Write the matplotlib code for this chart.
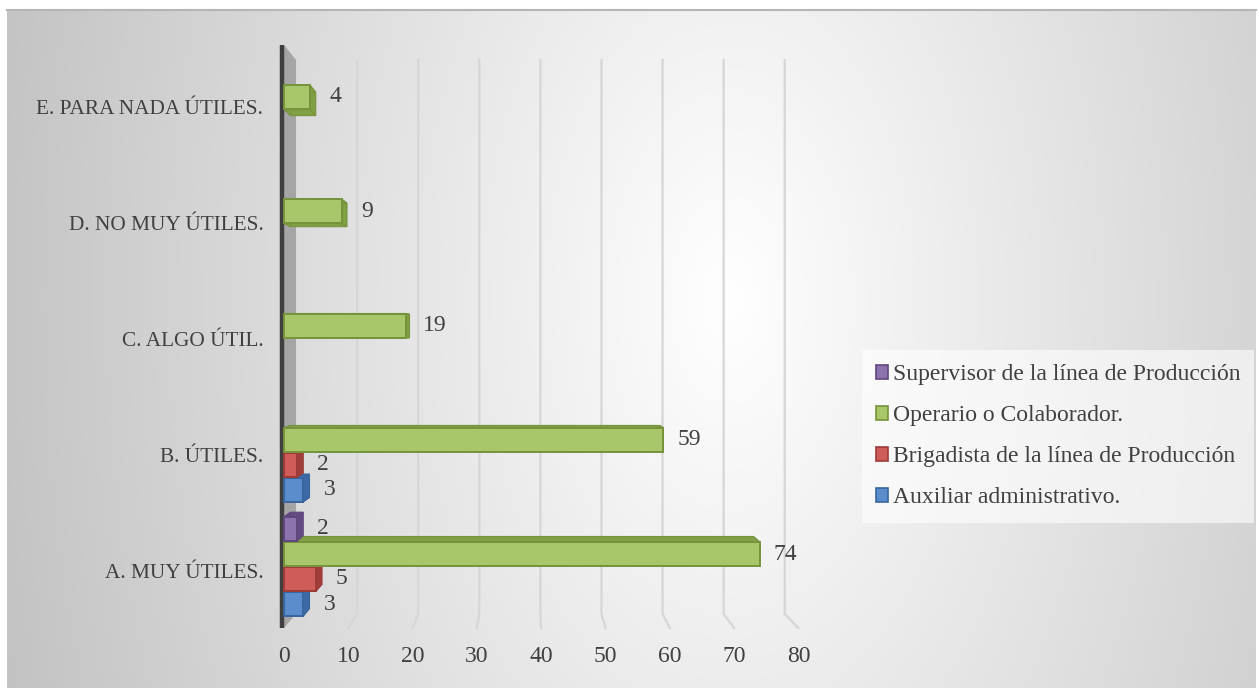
import numpy as np
import matplotlib
matplotlib.use("Agg")
import matplotlib.pyplot as plt
from matplotlib.patches import Polygon, Patch
import matplotlib.transforms as mtransforms

# ---- data ----
categories = ["A. MUY ÚTILES.", "B. ÚTILES.", "C. ALGO ÚTIL.",
              "D. NO MUY ÚTILES.", "E. PARA NADA ÚTILES."]
auxiliar = [3, 3, 0, 0, 0]
brigadista = [5, 2, 0, 0, 0]
operario = [74, 59, 19, 9, 4]
supervisor = [2, 0, 0, 0, 0]
series_names = ["Auxiliar administrativo.",
                "Brigadista de la línea de Producción",
                "Operario o Colaborador.",
                "Supervisor de la línea de Producción"]
x_ticks = [0, 10, 20, 30, 40, 50, 60, 70, 80]

series_values = [auxiliar, brigadista, operario, supervisor]
# (front face, side faces, outline)
series_colors = [("#5b8dcc", "#3d6aa5", "#3a659d"),
                 ("#d05c59", "#a13d3a", "#9c3b38"),
                 ("#a8c66a", "#819f45", "#76933c"),
                 ("#8d73ae", "#634a82", "#5f477d")]

plt.rcParams["font.family"] = ["Liberation Serif", "DejaVu Serif"]
TXT = "#404040"

W, H = 1259, 688
fig = plt.figure(figsize=(W / 100, H / 100), dpi=100)
fig.patch.set_facecolor("white")

# ---- radial gradient panel ----
bg = fig.add_axes([0, 0, 1, 1])
bg.set_xlim(0, W)
bg.set_ylim(H, 0)
bg.axis("off")
px0, px1, py0, py1 = 7, 1256, 9, 688
xx, yy = np.meshgrid(np.arange(px0, px1) + 0.5, np.arange(py0, py1) + 0.5)
dist = np.sqrt(((xx - 730) / 830.0) ** 2 + ((yy - 300) / 1400.0) ** 2)
shade = np.clip(1 - 0.26 * dist, 0, 1)
rgb = np.dstack([shade, shade, shade])
bg.imshow(rgb, extent=(px0, px1, py1, py0), interpolation="bilinear",
          aspect="auto")
bg.plot([px0, px1], [py0 + 0.5, py0 + 0.5], color="#b5b5b5", lw=1.5)

# ---- plot axes (x in value units, y in category units) ----
x0_px, sx = 284.0, 6.43       # pixel of value 0, pixels per unit
y0_px, sy = 566.5, 114.25     # pixel of first category, pixels per category
xmin, xmax = -3.0, 82.0
top_px, bot_px = 15.0, 638.0
left_px = x0_px + xmin * sx
right_px = x0_px + xmax * sx
ax = fig.add_axes([left_px / W, (H - bot_px) / H, (right_px - left_px) / W,
                   (bot_px - top_px) / H])
ax.set_xlim(xmin, xmax)
ax.set_ylim((y0_px - bot_px) / sy, (y0_px - top_px) / sy)
ax.patch.set_visible(False)
for s in ax.spines.values():
    s.set_visible(False)

# perspective helpers
vx = (525 - x0_px) / sx
vy = (y0_px - 345) / sy


def proj(x, y, r):
    return vx + (x - vx) * r, vy + (y - vy) * r


ytop = (y0_px - 45) / sy
ybot = (y0_px - 628) / sy
r_back = 0.95

# gridlines on back wall and floor
for v in x_ticks[1:]:
    bx, bty = proj(v, ytop, r_back)
    _, bby = proj(v, ybot, r_back)
    ax.plot([bx, bx, v], [bty, bby, ybot], color="#d6d6d6", lw=1.6,
            solid_joinstyle="miter", zorder=1)

# side wall and vertical axis line
wall = [(0, ytop), proj(0, ytop, r_back), proj(0, ybot, r_back), (0, ybot)]
ax.add_patch(Polygon(wall, closed=True, facecolor="#a5a5a5", edgecolor="none",
                     zorder=1.5))
ax.plot([-0.25, -0.25], [ytop, ybot], color="#3f3f3f", lw=3.2,
        solid_capstyle="butt", zorder=2)

# ---- 3D bars ----
slot = 25.0 / sy
face_h = 24.0 / sy
r_bar = 0.972


def draw_box(length, yc, face, side, edge):
    f = [(0, yc - face_h / 2), (length, yc - face_h / 2),
         (length, yc + face_h / 2), (0, yc + face_h / 2)]
    b = [proj(px, py, r_bar) for px, py in f]
    for i in range(4):
        j = (i + 1) % 4
        ax.add_patch(Polygon([f[i], f[j], b[j], b[i]], closed=True,
                             facecolor=side, edgecolor=edge, lw=0.8,
                             zorder=3))
    ax.add_patch(Polygon(f, closed=True, facecolor=face, edgecolor=edge,
                         lw=1.4, zorder=4))
    return max(length, proj(length, yc, r_bar)[0])


for k, (vals, (face, side, edge)) in enumerate(zip(series_values,
                                                   series_colors)):
    off = (k - 1.5) * slot
    for i, v in enumerate(vals):
        if v <= 0:
            continue
        yc = i + off
        xr = draw_box(v, yc, face, side, edge)
        ax.annotate(str(v), xy=(xr, yc), xytext=(10, 0),
                    textcoords="offset points", ha="left", va="center",
                    fontsize=17, color=TXT, zorder=5)

# ---- ticks ----
ax.set_xticks(x_ticks)
ax.set_xticklabels([str(t) for t in x_ticks], fontsize=17, color=TXT)
# category labels follow the front plane of the perspective box
ax.set_yticks([i * 1.015 - 0.04 for i in range(len(categories))])
ax.set_yticklabels(categories, fontsize=15.3, color=TXT)
ax.tick_params(axis="x", length=0, pad=6)
ax.tick_params(axis="y", length=0, pad=1)

# ---- legend ----
handles = [Patch(facecolor=series_colors[k][0], edgecolor=series_colors[k][2],
                 lw=1.2) for k in range(3, -1, -1)]
labels = [series_names[k] for k in range(3, -1, -1)]
leg = fig.legend(handles, labels, loc="upper left",
                 bbox_to_anchor=(862 / W, 1 - 350 / H), frameon=True,
                 fontsize=17, framealpha=0.6, facecolor="white",
                 edgecolor="none", fancybox=False, borderpad=0.6,
                 labelspacing=0.85, handlelength=0.5, handleheight=0.5,
                 handletextpad=0.2, borderaxespad=0)
for t in leg.get_texts():
    t.set_color(TXT)

fig.savefig("out.png", dpi=100)
